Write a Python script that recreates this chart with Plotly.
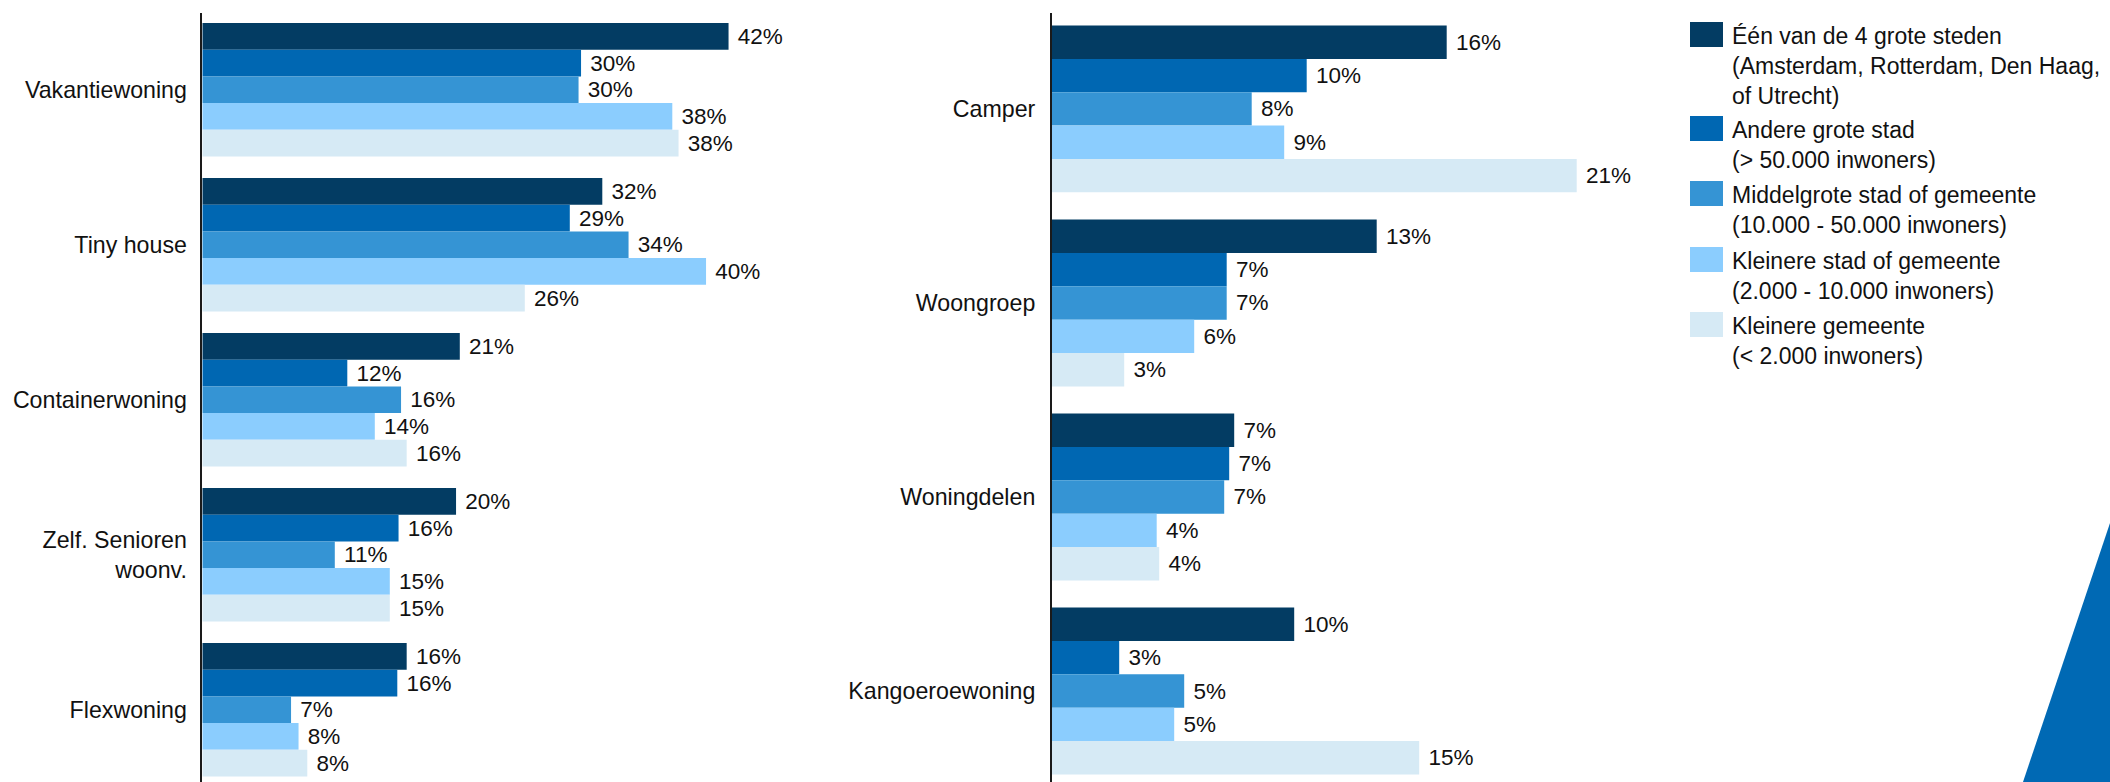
import plotly.graph_objects as go

# ---------------- data ----------------
series_names = [
    "Één van de 4 grote steden<br>(Amsterdam, Rotterdam, Den Haag,<br>of Utrecht)",
    "Andere grote stad<br>(> 50.000 inwoners)",
    "Middelgrote stad of gemeente<br>(10.000 - 50.000 inwoners)",
    "Kleinere stad of gemeente<br>(2.000 - 10.000 inwoners)",
    "Kleinere gemeente<br>(< 2.000 inwoners)",
]
series_colors = ["#033C63", "#0067B2", "#3594D4", "#8BCDFE", "#D6EAF5"]

categories_left = ["Vakantiewoning", "Tiny house", "Containerwoning",
                   "Zelf. Senioren<br>woonv.", "Flexwoning"]
categories_right = ["Camper", "Woongroep", "Woningdelen", "Kangoeroewoning"]

left_s1 = [42.1, 32.0, 20.6, 20.3, 16.35]
left_s2 = [30.3, 29.4, 11.6, 15.7, 15.6]
left_s3 = [30.1, 34.1, 15.9, 10.6, 7.1]
left_s4 = [37.6, 40.3, 13.8, 15.0, 7.7]
left_s5 = [38.1, 25.8, 16.35, 15.0, 8.4]

right_s1 = [15.8, 13.0, 7.3, 9.7]
right_s2 = [10.2, 7.0, 7.1, 2.7]
right_s3 = [8.0, 7.0, 6.9, 5.3]
right_s4 = [9.3, 5.7, 4.2, 4.9]
right_s5 = [21.0, 2.9, 4.3, 14.7]

left_values = [left_s1, left_s2, left_s3, left_s4, left_s5]
right_values = [right_s1, right_s2, right_s3, right_s4, right_s5]

# ---------------- figure ----------------
W, H = 2110, 782
FONT = "Liberation Sans, Arial, Helvetica, sans-serif"
FS = 22.5
TICK_FS = 23.2

fig = go.Figure()

for i in range(5):
    fig.add_trace(go.Bar(
        y=categories_left, x=left_values[i], orientation="h",
        name=series_names[i], marker=dict(color=series_colors[i], line=dict(width=0)),
        texttemplate=" %{x:.0f}%", textposition="outside",
        textfont=dict(family=FONT, size=FS, color="#111111"),
        constraintext="none", cliponaxis=False,
        xaxis="x", yaxis="y", showlegend=False, hoverinfo="skip",
    ))
for i in range(5):
    fig.add_trace(go.Bar(
        y=categories_right, x=right_values[i], orientation="h",
        name=series_names[i], marker=dict(color=series_colors[i], line=dict(width=0)),
        texttemplate=" %{x:.0f}%", textposition="outside",
        textfont=dict(family=FONT, size=FS, color="#111111"),
        constraintext="none", cliponaxis=False,
        xaxis="x2", yaxis="y2", showlegend=False, hoverinfo="skip",
    ))

ytop = 1 - 12.7 / H

def px_x(p):
    return p / W

def px_y(p):
    return 1 - p / H

left_x0, left_x1 = 202.3, 830.0
right_x0, right_x1 = 1051.7, 1640.0

fig.update_layout(
    width=W, height=H,
    margin=dict(l=0, r=0, t=0, b=0),
    paper_bgcolor="white", plot_bgcolor="white",
    barmode="group", bargap=0.14, bargroupgap=0,
    font=dict(family=FONT, size=FS, color="#111111"),
    showlegend=False,
    xaxis=dict(domain=[px_x(left_x0), px_x(left_x1)],
               range=[0, (left_x1 - left_x0) / 12.5],
               showgrid=False, zeroline=False, showline=False,
               showticklabels=False, fixedrange=True),
    yaxis=dict(domain=[0, ytop], anchor="x", type="category",
               categoryorder="array", categoryarray=categories_left,
               range=[4.466, -0.497],
               showgrid=False, zeroline=False, showline=True,
               linecolor="#1a1a1a", linewidth=1.5, ticks="",
               ticklabelstandoff=9,
               tickfont=dict(family=FONT, size=TICK_FS, color="#111111")),
    xaxis2=dict(domain=[px_x(right_x0), px_x(right_x1)],
                range=[0, (right_x1 - right_x0) / 25.0],
                anchor="y2",
                showgrid=False, zeroline=False, showline=False,
                showticklabels=False, fixedrange=True),
    yaxis2=dict(domain=[0, ytop], anchor="x2", type="category",
                categoryorder="array", categoryarray=categories_right,
                range=[3.469, -0.496],
                showgrid=False, zeroline=False, showline=True,
                linecolor="#1a1a1a", linewidth=1.5, ticks="",
                ticklabelstandoff=10,
                tickfont=dict(family=FONT, size=TICK_FS, color="#111111")),
)

# ---------------- manual legend ----------------
legend_tops = [22, 116, 181, 247, 312]
shapes = []
annotations = []
for i, top in enumerate(legend_tops):
    shapes.append(dict(type="rect", xref="paper", yref="paper",
                       x0=px_x(1690), x1=px_x(1723),
                       y0=px_y(top + 25), y1=px_y(top),
                       fillcolor=series_colors[i], line=dict(width=0)))
    annotations.append(dict(xref="paper", yref="paper",
                            x=px_x(1730), y=px_y(top - 1),
                            xanchor="left", yanchor="top", align="left",
                            text=series_names[i], showarrow=False,
                            font=dict(family=FONT, size=23, color="#111111")))

# decorative corner triangle
shapes.append(dict(type="path", xref="paper", yref="paper",
                   path=f"M 1,{px_y(523)} L {px_x(2023)},0 L 1,0 Z",
                   fillcolor="#0069B4", line=dict(width=0), layer="above"))

fig.update_layout(shapes=shapes, annotations=annotations)

fig.write_html(
    "out.html",
    config={"displayModeBar": False},
    post_script="document.body.style.margin='0';document.body.style.padding='0';"
                "document.body.style.overflow='hidden';",
)
